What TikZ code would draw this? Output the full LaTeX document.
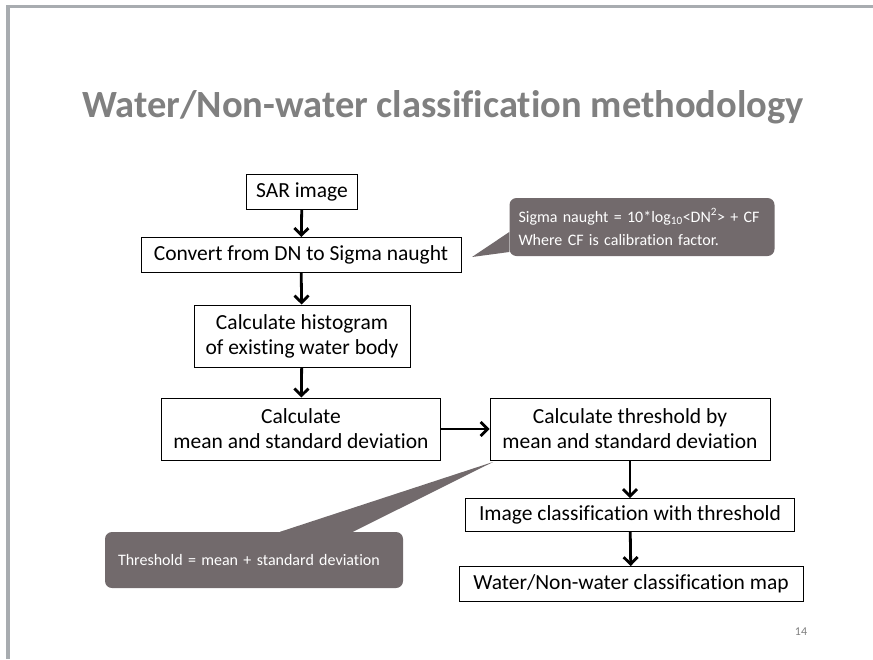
\documentclass[tikz,border=0pt]{standalone}
\usepackage{fontspec}
\setmainfont{Carlito}[Ligatures=NoCommon]
\usepackage{tikz}
\usetikzlibrary{arrows.meta,positioning,calc}
\definecolor{frame}{RGB}{168,172,176}
\definecolor{ttl}{RGB}{128,128,128}
\definecolor{note}{RGB}{114,106,108}
\tikzset{
  box/.style={draw, line width=0.9pt, align=center, font=\fontsize{21.5}{25}\selectfont, inner sep=3pt, minimum width=#1, minimum height=35pt},
  flow/.style={-{Straight Barb[length=7pt,width=14pt]}, line width=2.8pt},
  notebox/.style={fill=note, text=white, rounded corners=7pt, align=left, font=\fontsize{16}{23}\selectfont, inner sep=0pt, minimum width=#1},
}

\begin{document}
\begin{tikzpicture}[x=1pt, y=-1pt]
  \useasboundingbox (0,0) rectangle (873,659);
  % slide frame
  \fill[frame] (6,5) rectangle (10,659);
  \fill[frame] (6,5) rectangle (873,8);
  \node[font=\bfseries\fontsize{38.5}{44}\selectfont, text=ttl] (title) at (443,107) {Water/Non-water classification methodology};
  % flow boxes
  \node[box=111pt] (sar) at (302,192) {SAR image};
  \node[box=320pt] (conv) at (301,255) {Convert from DN to Sigma naught};
  \node[box=216pt, minimum height=62pt] (hist) at (302,336) {Calculate histogram\\of existing water body};
  \node[box=279pt, minimum height=62pt] (mean) at (301,429) {Calculate\\mean and standard deviation};
  \node[box=280pt, minimum height=62pt] (thr) at (630,429) {Calculate threshold by\\mean and standard deviation};
  \node[box=329pt, minimum height=33pt] (cls) at (630,515) {Image classification with threshold};
  \node[box=344pt] (map) at (631,584) {Water/Non-water classification map};
  \draw[flow] (sar) -- (conv);
  \draw[flow] (conv) -- (hist);
  \draw[flow] (hist) -- (mean);
  \draw[flow] (mean) -- (thr);
  \draw[flow] (thr) -- (cls);
  \draw[flow] (cls) -- (map);
  % callouts
  \node[notebox=265pt, minimum height=58pt, text width=247pt] (sigma) at (642,227)
    {Sigma naught = 10*log\textsubscript{10}<DN\textsuperscript{2}> + CF\\Where CF is calibration factor.};
  \coordinate (sigtip) at (472,257);
  \fill[note] (sigtip) -- ($(sigma.west)+(0,5)$) -- ($(sigma.west)+(0,25)$) -- cycle;
  \node[notebox=298pt, minimum height=56pt, text width=272pt] (thnote) at (254,560)
    {Threshold = mean + standard deviation};
  \coordinate (thtip) at (493,462);
  \fill[note] (thtip) -- ($(thnote.north)+(26,0)$) -- ($(thnote.north)+(99,0)$) -- cycle;
  \node[font=\fontsize{12}{14}\selectfont, text=ttl] (page) at (801,632) {14};
\end{tikzpicture}
\end{document}
